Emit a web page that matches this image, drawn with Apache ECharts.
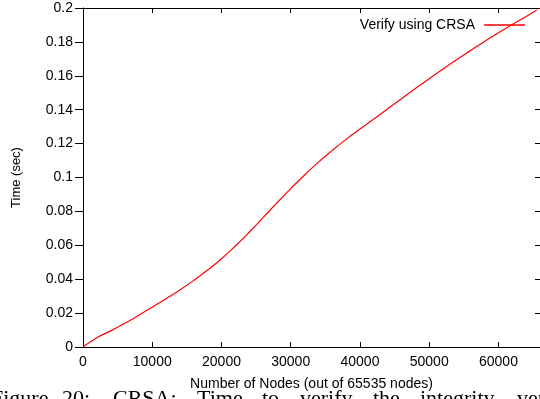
<!DOCTYPE html>
<html>
<head>
<meta charset="utf-8">
<script src="https://cdn.jsdelivr.net/npm/echarts@6/dist/echarts.min.js"></script>
<style>
html,body{margin:0;padding:0;background:#fff;}
#chart{width:540px;height:399px;}
</style>
</head>
<body>
<div id="chart"></div>
<script>
// Data
const nodes = [0, 2000, 4000, 6000, 8000, 10000, 12000, 14000, 16000, 18000, 20000,
  22000, 24000, 26000, 28000, 30000, 32000, 34000, 36000, 38000, 40000,
  42000, 44000, 46000, 48000, 50000, 52000, 54000, 56000, 58000, 60000,
  62000, 64000, 65535];
const verifyTime = [0, 0.0055, 0.0095, 0.0139, 0.0186, 0.0235, 0.0285, 0.0337, 0.0393, 0.0454, 0.0521,
  0.0596, 0.0677, 0.0763, 0.0850, 0.0934, 0.1015, 0.1091, 0.1160, 0.1225, 0.1286,
  0.1345, 0.1405, 0.1465, 0.1525, 0.1583, 0.1640, 0.1696, 0.1750, 0.1803, 0.1854,
  0.1903, 0.1950, 0.1988];
const seriesName = 'Verify using CRSA';
const xTitle = 'Number of Nodes (out of 65535 nodes)';
const yTitle = 'Time (sec)';
const captionWords = ['Figure', '20:', 'CRSA:', 'Time', 'to', 'verify', 'the', 'integrity', 'verification'];
const captionX = [-9, 62, 113, 197, 262, 300, 373, 420, 517];

const font = '"Liberation Sans", Arial, Helvetica, sans-serif';
const chart = echarts.init(document.getElementById('chart'), null, {renderer: 'canvas'});
const data = nodes.map((x, i) => [x, verifyTime[i]]);

const baseX = {
  type: 'value', min: 0, max: 66000, interval: 10000,
  axisLine: {show: true, onZero: false, lineStyle: {color: '#000', width: 1}},
  axisTick: {show: true, inside: true, length: 5, lineStyle: {color: '#000'}},
  splitLine: {show: false}
};
const baseY = {
  type: 'value', min: 0, max: 0.2, interval: 0.02,
  axisLine: {show: true, onZero: false, lineStyle: {color: '#000', width: 1}},
  splitLine: {show: false}
};

chart.setOption({
  animation: false,
  backgroundColor: '#fff',
  grid: {left: 83, right: -1, top: 8, bottom: 52},
  legend: {
    data: [seriesName],
    right: 10, top: 13,
    align: 'right',
    icon: 'rect',
    itemWidth: 41, itemHeight: 1.5,
    itemStyle: {color: '#ff0000'},
    textStyle: {fontFamily: font, fontSize: 14, color: '#000', padding: [0, 4, 0, 0]}
  },
  xAxis: [
    Object.assign({}, baseX, {
      position: 'bottom',
      name: xTitle, nameLocation: 'middle', nameGap: 30,
      nameTextStyle: {fontFamily: font, fontSize: 14, color: '#000'},
      axisLabel: {fontFamily: font, fontSize: 14, color: '#000', margin: 8, showMaxLabel: false,
        formatter: v => String(v)}
    }),
    Object.assign({}, baseX, {
      position: 'top',
      axisLabel: {show: false}
    })
  ],
  yAxis: [
    Object.assign({}, baseY, {
      position: 'left',
      name: yTitle, nameLocation: 'middle', nameGap: 60, nameRotate: 90,
      nameTextStyle: {fontFamily: font, fontSize: 13, color: '#000'},
      axisTick: {show: true, inside: false, length: 8, lineStyle: {color: '#000'}},
      axisLabel: {fontFamily: font, fontSize: 14, color: '#000', margin: 10,
        formatter: v => String(Math.round(v * 100) / 100)}
    }),
    Object.assign({}, baseY, {
      position: 'right',
      axisTick: {show: true, inside: true, length: 5, lineStyle: {color: '#000'}},
      axisLabel: {show: false}
    })
  ],
  graphic: captionWords.map((w, i) => ({
    type: 'text', x: captionX[i], y: 388,
    style: {text: w, fontFamily: '"Liberation Serif", "Times New Roman", serif', fontSize: 22,
      fill: '#000', verticalAlign: 'top'}
  })),
  series: [{
    name: seriesName,
    type: 'line',
    data: data,
    showSymbol: false,
    symbol: 'none',
    smooth: 0.5,
    clip: true,
    lineStyle: {color: '#ff0000', width: 1.2},
    itemStyle: {color: '#ff0000'}
  }]
});
</script>
</body>
</html>
